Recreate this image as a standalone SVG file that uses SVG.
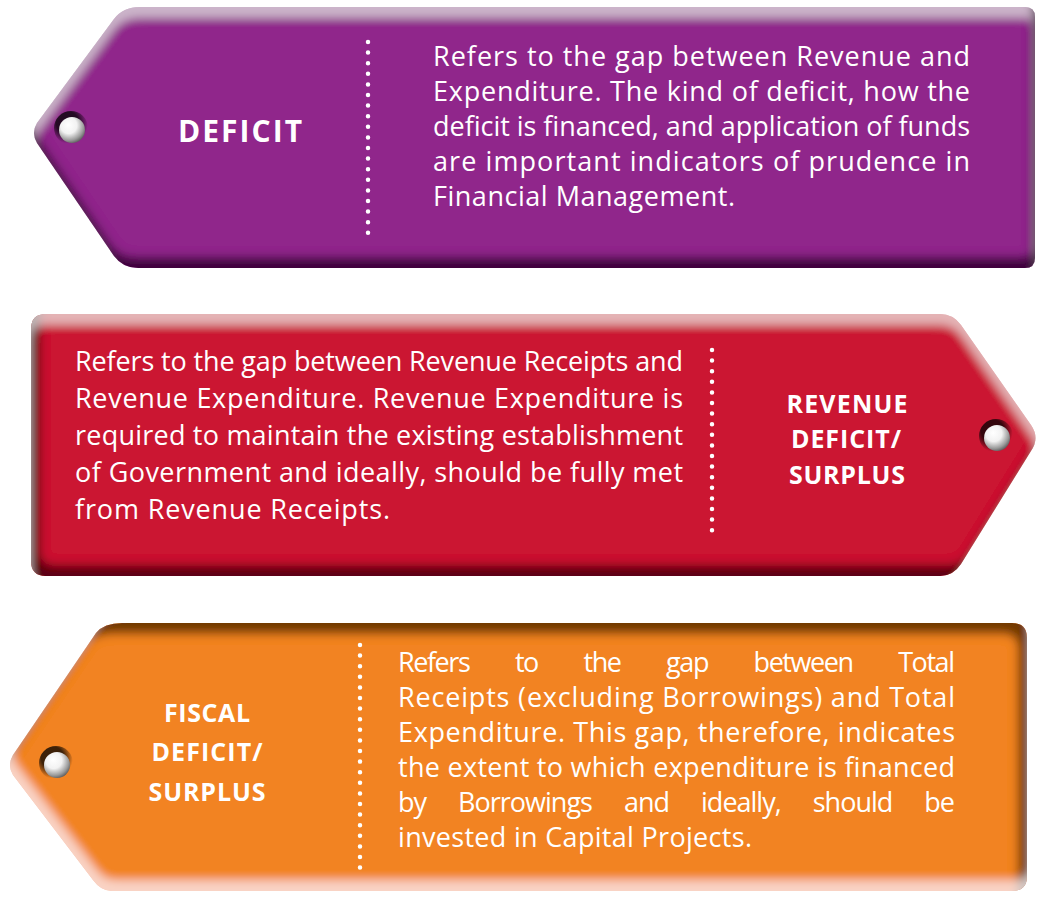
<svg xmlns="http://www.w3.org/2000/svg" width="1037" height="899" viewBox="0 0 1037 899">
<style>
.body{font-family:"Open Sans","Liberation Sans",sans-serif;font-size:27px;fill:#fff}
.lbl{font-family:"Open Sans","Liberation Sans",sans-serif;font-size:25px;font-weight:bold;fill:#fff;text-anchor:middle}
.big{font-size:30px}
.dots{stroke:#fff;stroke-width:4.5;stroke-linecap:round;stroke-dasharray:0 10.6;fill:none}
</style>
<defs>
<filter id="fP" x="-5%" y="-10%" width="110%" height="120%">
 <feGaussianBlur in="SourceAlpha" stdDeviation="5" result="blur"/>
 <feOffset in="blur" dy="11" result="o1"/>
 <feComposite in="SourceAlpha" in2="o1" operator="out" result="top"/>
 <feFlood flood-color="#ffffff" flood-opacity="0.45"/>
 <feComposite in2="top" operator="in" result="hl"/>
 <feOffset in="blur" dx="-3" dy="-11" result="o2"/>
 <feComposite in="SourceAlpha" in2="o2" operator="out" result="bot"/>
 <feFlood flood-color="#1a0018" flood-opacity="0.85"/>
 <feComposite in2="bot" operator="in" result="sh"/>
 <feMerge><feMergeNode in="SourceGraphic"/><feMergeNode in="hl"/><feMergeNode in="sh"/></feMerge>
</filter>
<filter id="fR" x="-5%" y="-10%" width="110%" height="120%">
 <feGaussianBlur in="SourceAlpha" stdDeviation="5" result="blur"/>
 <feOffset in="blur" dy="11" result="o1"/>
 <feComposite in="SourceAlpha" in2="o1" operator="out" result="top"/>
 <feFlood flood-color="#ffffff" flood-opacity="0.45"/>
 <feComposite in2="top" operator="in" result="hl"/>
 <feOffset in="blur" dx="9" dy="-11" result="o2"/>
 <feComposite in="SourceAlpha" in2="o2" operator="out" result="bot"/>
 <feFlood flood-color="#2a0008" flood-opacity="0.85"/>
 <feComposite in2="bot" operator="in" result="sh"/>
 <feMerge><feMergeNode in="SourceGraphic"/><feMergeNode in="sh"/><feMergeNode in="hl"/></feMerge>
</filter>
<filter id="fO" x="-5%" y="-10%" width="110%" height="120%">
 <feGaussianBlur in="SourceAlpha" stdDeviation="5" result="blur"/>
 <feOffset in="blur" dx="-9" dy="11" result="o1"/>
 <feComposite in="SourceAlpha" in2="o1" operator="out" result="top"/>
 <feFlood flood-color="#3a1a04" flood-opacity="0.85"/>
 <feComposite in2="top" operator="in" result="sh"/>
 <feOffset in="blur" dx="3" dy="-11" result="o2"/>
 <feComposite in="SourceAlpha" in2="o2" operator="out" result="bot"/>
 <feFlood flood-color="#ffffff" flood-opacity="0.55"/>
 <feComposite in2="bot" operator="in" result="hl"/>
 <feMerge><feMergeNode in="SourceGraphic"/><feMergeNode in="sh"/><feMergeNode in="hl"/></feMerge>
</filter>
<radialGradient id="ring" cx="40%" cy="35%" r="60%">
 <stop offset="0.55" stop-color="#000" stop-opacity="0.75"/>
 <stop offset="1" stop-color="#000" stop-opacity="0"/>
</radialGradient>
<radialGradient id="ball" cx="40%" cy="35%" r="70%" fx="35%" fy="30%">
 <stop offset="0" stop-color="#ffffff"/>
 <stop offset="0.45" stop-color="#f2f2f2"/>
 <stop offset="0.8" stop-color="#9a9a9a"/>
 <stop offset="1" stop-color="#555"/>
</radialGradient>
<g id="hole">
 <circle cx="-1" cy="-2" r="17" fill="url(#ring)"/>
 <circle cx="0" cy="0" r="13" fill="url(#ball)"/>
</g>
</defs>

<g id="deficit">
 <path d="M140,7 L1025,7 Q1035,7 1035,17 L1035,258 Q1035,268 1025,268 L138,268 Q123,268 114,256 L37,143 Q31,133 37,123 L114,19 Q123,7 140,7 Z" fill="#90278b" filter="url(#fP)"/>
 <use href="#hole" x="72" y="130"/>
 <text class="lbl big" x="240" y="142" textLength="124">DEFICIT</text>
 <line class="dots" x1="368" y1="42" x2="368" y2="233"/>
 <text class="body" x="433" y="66" textLength="537">Refers to the gap between Revenue and</text>
 <text class="body" x="433" y="101" textLength="537">Expenditure. The kind of deficit, how the</text>
 <text class="body" x="433" y="136" textLength="537">deficit is financed, and application of funds</text>
 <text class="body" x="433" y="171" textLength="537">are important indicators of prudence in</text>
 <text class="body" x="433" y="206" textLength="302">Financial Management.</text>
</g>

<g id="revenue">
 <path d="M46,314 L940,314 Q953,314 961,325 L1031,425 Q1040,438 1031,451 L961,564 Q953,576 940,576 L46,576 Q31,576 31,561 L31,329 Q31,314 46,314 Z" fill="#cb1432" filter="url(#fR)"/>
 <use href="#hole" x="997" y="438"/>
 <line class="dots" x1="712" y1="350" x2="712" y2="540"/>
 <text class="lbl" x="847" y="413" textLength="121">REVENUE</text>
 <text class="lbl" x="846" y="448" textLength="110">DEFICIT/</text>
 <text class="lbl" x="847" y="484" textLength="116">SURPLUS</text>
 <text class="body" x="75" y="371" textLength="608">Refers to the gap between Revenue Receipts and</text>
 <text class="body" x="75" y="408" textLength="608">Revenue Expenditure. Revenue Expenditure is</text>
 <text class="body" x="75" y="445" textLength="608">required to maintain the existing establishment</text>
 <text class="body" x="75" y="482" textLength="608">of Government and ideally, should be fully met</text>
 <text class="body" x="75" y="519" textLength="315">from Revenue Receipts.</text>
</g>

<g id="fiscal">
 <path d="M122,623 L1012,623 Q1027,623 1027,638 L1027,876 Q1027,891 1012,891 L112,891 Q101,891 93,880 L13,775 Q7,765 13,755 L96,633 Q104,623 122,623 Z" fill="#f28322" filter="url(#fO)"/>
 <use href="#hole" x="57" y="765"/>
 <line class="dots" x1="360" y1="645" x2="360" y2="878"/>
 <text class="lbl" x="207" y="722" textLength="86">FISCAL</text>
 <text class="lbl" x="207" y="761" textLength="111">DEFICIT/</text>
 <text class="lbl" x="207" y="801" textLength="117">SURPLUS</text>
 <text class="body" x="398" y="672" textLength="557" word-spacing="40">Refers to the gap between Total</text>
 <text class="body" x="398" y="707" textLength="557">Receipts (excluding Borrowings) and Total</text>
 <text class="body" x="398" y="742" textLength="557">Expenditure. This gap, therefore, indicates</text>
 <text class="body" x="398" y="777" textLength="557">the extent to which expenditure is financed</text>
 <text class="body" x="398" y="812" textLength="557" word-spacing="26">by Borrowings and ideally, should be</text>
 <text class="body" x="398" y="847" textLength="354">invested in Capital Projects.</text>
</g>
</svg>
